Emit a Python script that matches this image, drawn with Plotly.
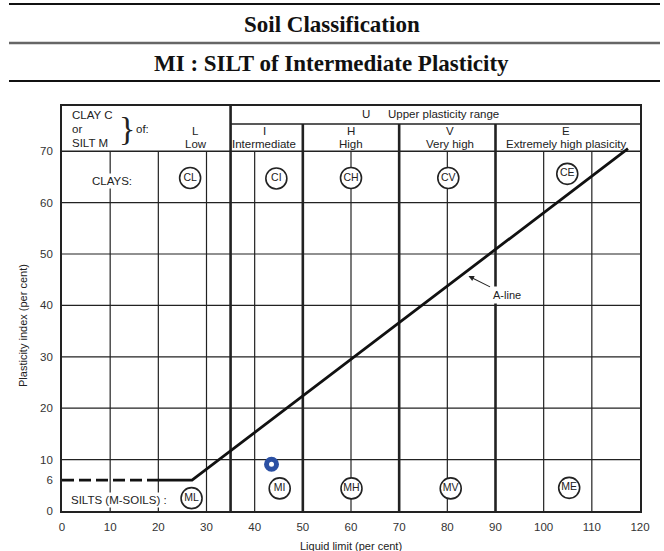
import plotly.graph_objects as go

# ---------------- data ----------------
title_main = "Soil Classification"
title_sub = "MI : SILT of Intermediate Plasticity"

x_ticks = [0, 10, 20, 30, 40, 50, 60, 70, 80, 90, 100, 110, 120]
y_ticks = [0, 6, 10, 20, 30, 40, 50, 60, 70]

x_range = [0, 120]
chart_top = 78.8          # top of header block (PI units)
header_split = 75.3       # line between "U" row and the letter row
header_bottom = 70        # bottom of header rows

zone_bounds = [35, 50, 70, 90]            # thick plasticity boundaries
zone_tops = [78.8, 75.3, 75.3, 75.3]
thin_lines = [10, 20, 30, 40, 60, 80, 100, 110]
grid_y = [10, 20, 30, 40, 50, 60]

aline_dash_x = [0, 20]
aline_dash_y = [6, 6]
aline_x = [20, 27, 117.5]
aline_y = [6, 6, 70.5]

clay_sym = ["CL", "CI", "CH", "CV", "CE"]
clay_x = [26.6, 44.5, 60, 80.2, 104.9]
clay_y = [64.8, 64.7, 64.8, 64.8, 65.6]

silt_sym = ["ML", "MI", "MH", "MV", "ME"]
silt_x = [26.9, 45.2, 60.1, 80.7, 105.3]
silt_y = [2.5, 4.4, 4.4, 4.4, 4.5]

head_letter = ["L", "I", "H", "V", "E"]
head_name = ["Low", "Intermediate", "High", "Very high", "Extremely high plasicity"]
head_x = [27.8, 42.0, 60.0, 80.6, 104.7]

sample_x = [43.5]
sample_y = [9.1]

# ---------------- figure ----------------
INK = "#222222"
FONT = "Liberation Sans, Arial, sans-serif"
fig = go.Figure()

# structural lines
shapes = []
for xv in thin_lines:
    shapes.append(dict(type="line", xref="x", yref="y", x0=xv, x1=xv, y0=0, y1=header_bottom,
                       line=dict(color=INK, width=1.2), layer="below"))
for xv, top in zip(zone_bounds, zone_tops):
    shapes.append(dict(type="line", xref="x", yref="y", x0=xv, x1=xv, y0=0, y1=top,
                       line=dict(color=INK, width=2.6), layer="below"))
for yv in grid_y:
    shapes.append(dict(type="line", xref="x", yref="y", x0=x_range[0], x1=x_range[1], y0=yv, y1=yv,
                       line=dict(color=INK, width=1.2), layer="below"))
shapes.append(dict(type="line", xref="x", yref="y", x0=x_range[0], x1=x_range[1],
                   y0=header_bottom, y1=header_bottom, line=dict(color=INK, width=1.6), layer="below"))
shapes.append(dict(type="line", xref="x", yref="y", x0=zone_bounds[0], x1=x_range[1],
                   y0=header_split, y1=header_split, line=dict(color=INK, width=1.4), layer="below"))

# title rules
for py, col, w in [(4, "#111111", 2), (43, "#666666", 2.5), (81, "#111111", 2)]:
    yp = (511 - py) / 405
    shapes.append(dict(type="line", xref="paper", yref="paper", x0=-0.0917, x1=1.0346,
                       y0=yp, y1=yp, line=dict(color=col, width=w)))

# A-line
fig.add_trace(go.Scatter(x=aline_dash_x, y=aline_dash_y, mode="lines",
                         line=dict(color="#111111", width=2.6, dash="12px,5px"),
                         hoverinfo="skip", showlegend=False))
fig.add_trace(go.Scatter(x=aline_x, y=aline_y, mode="lines",
                         line=dict(color="#111111", width=2.8),
                         hoverinfo="skip", showlegend=False))

# circled group symbols
for sx, sy, ss in [(clay_x, clay_y, clay_sym), (silt_x, silt_y, silt_sym)]:
    fig.add_trace(go.Scatter(x=sx, y=sy, text=ss, mode="markers+text",
                             textposition="middle center",
                             textfont=dict(family=FONT, size=10.5, color=INK),
                             marker=dict(size=21, color="white", line=dict(color=INK, width=1.6)),
                             hoverinfo="skip", showlegend=False))

# sample point
fig.add_trace(go.Scatter(x=sample_x, y=sample_y, mode="markers",
                         marker=dict(size=10, color="white", line=dict(color="#2B50A3", width=5)),
                         hoverinfo="skip", showlegend=False))

ann = []
def txt(x, y, s, size=11.5, xanchor="center", **kw):
    d = dict(x=x, y=y, xref="x", yref="y", text=s, showarrow=False, xanchor=xanchor, yanchor="middle",
             font=dict(family=FONT, size=size, color=INK))
    d.update(kw)
    ann.append(d)

# header block
txt(1.7, 77.0, "CLAY C", xanchor="left")
txt(1.7, 74.3, "or", xanchor="left")
txt(1.7, 71.6, "SILT M", xanchor="left")
txt(13.4, 74.4, "}", font=dict(family="Liberation Serif, serif", size=34, color=INK))
txt(16.8, 74.3, "of:")
for hx, hl, hn in zip(head_x, head_letter, head_name):
    txt(hx, 73.9, hl)
    txt(hx, 71.5, hn)
txt(63.2, 77.2, "U")
txt(79.3, 77.2, "Upper plasticity range")

# row labels
txt(10.4, 64.2, "CLAYS:", bgcolor="white", borderpad=1)
txt(11.9, 2.1, "SILTS (M-SOILS) :", bgcolor="white", borderpad=1)

# A-line label
ann.append(dict(x=84.4, y=45.7, xref="x", yref="y", text="A-line", showarrow=True,
                ax=38, ay=19, arrowhead=2, arrowsize=1, arrowwidth=1.1, arrowcolor=INK,
                bgcolor="white", borderpad=2,
                font=dict(family=FONT, size=11, color=INK)))

# titles
ann.append(dict(x=0.467, y=(511 - 24) / 405, xref="paper", yref="paper", text="<b>" + title_main + "</b>",
                showarrow=False, xanchor="center", yanchor="middle",
                font=dict(family="Liberation Serif, Times New Roman, serif", size=23, color="#111111")))
ann.append(dict(x=0.467, y=(511 - 63) / 405, xref="paper", yref="paper", text="<b>" + title_sub + "</b>",
                showarrow=False, xanchor="center", yanchor="middle",
                font=dict(family="Liberation Serif, Times New Roman, serif", size=23, color="#111111")))

# axis titles
ann.append(dict(x=0.5, y=(511 - 546) / 405, xref="paper", yref="paper", text="Liquid limit (per cent)",
                showarrow=False, xanchor="center", yanchor="middle",
                font=dict(family=FONT, size=11, color=INK)))
ann.append(dict(x=(23 - 62) / 578, y=(511 - 325) / 405, xref="paper", yref="paper",
                text="Plasticity index (per cent)", textangle=-90,
                showarrow=False, xanchor="center", yanchor="middle",
                font=dict(family=FONT, size=11, color=INK)))

fig.update_layout(
    width=664, height=551,
    margin=dict(l=62, r=24, t=106, b=40),
    paper_bgcolor="white", plot_bgcolor="white",
    shapes=shapes, annotations=ann, showlegend=False,
    xaxis=dict(range=x_range, tickvals=x_ticks, ticks="", showgrid=False, zeroline=False,
               showline=True, mirror=True, linecolor=INK, linewidth=1.8,
               tickfont=dict(family=FONT, size=11.5, color="#333333"), ticklabelstandoff=4,
               fixedrange=True),
    yaxis=dict(range=[0, chart_top], tickvals=y_ticks, ticks="", showgrid=False, zeroline=False,
               showline=True, mirror=True, linecolor=INK, linewidth=1.8,
               tickfont=dict(family=FONT, size=11.5, color="#333333"), ticklabelstandoff=5,
               fixedrange=True),
)

fig.write_html("out.html", config={"displayModeBar": False},
               post_script="document.body.style.margin='0';document.body.style.overflow='hidden';")
